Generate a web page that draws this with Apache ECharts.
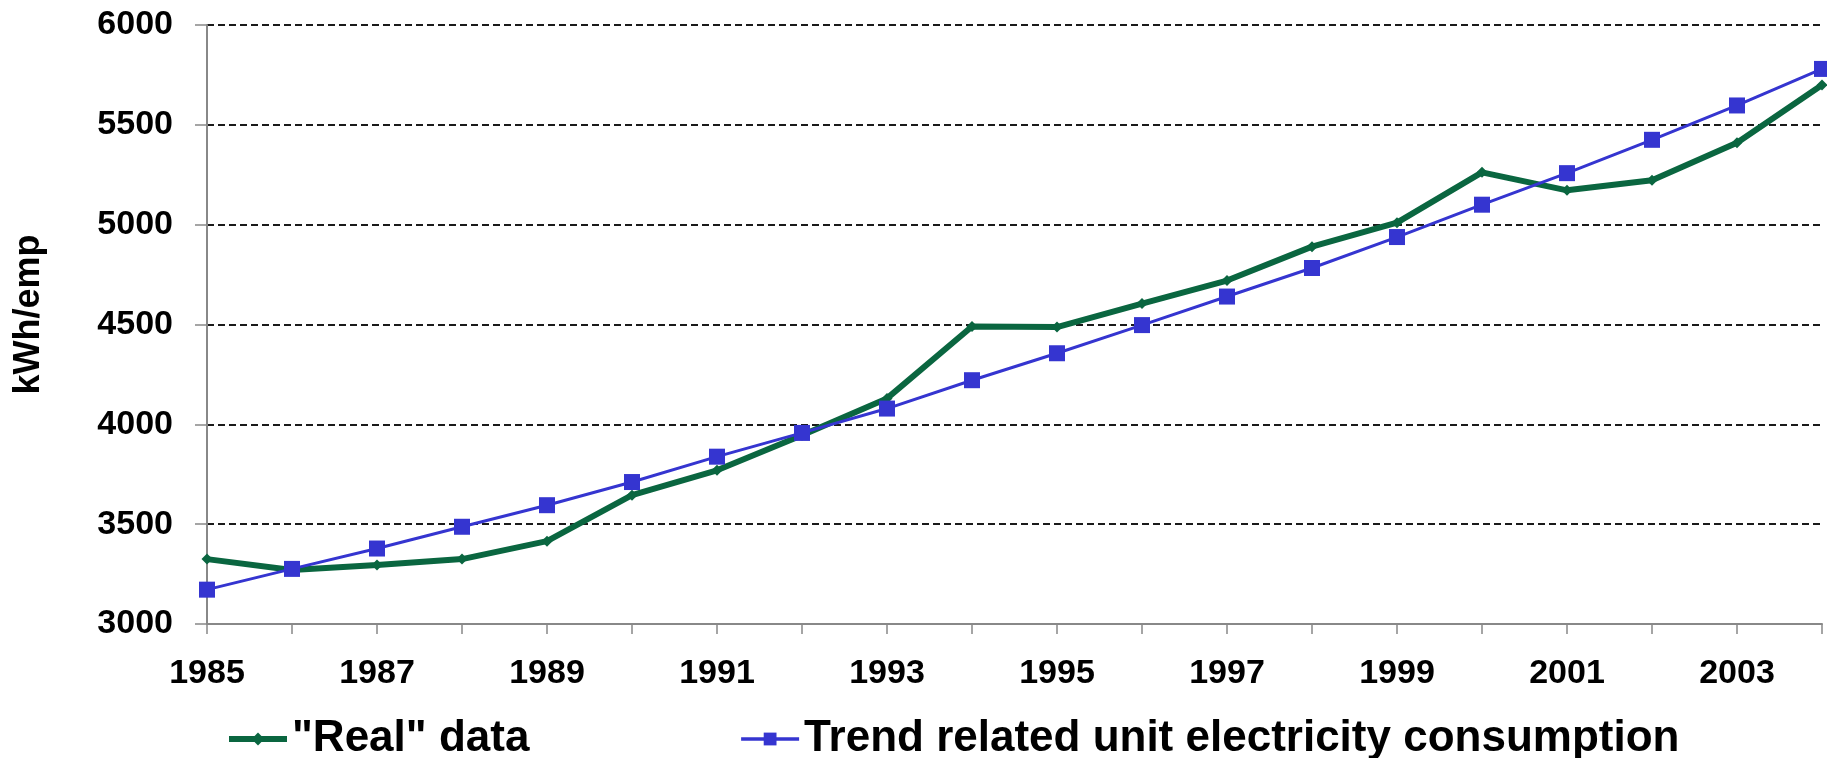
<!DOCTYPE html>
<html>
<head>
<meta charset="utf-8">
<script src="https://cdn.jsdelivr.net/npm/echarts@6/dist/echarts.min.js"></script>
<style>
html,body{margin:0;padding:0;background:#fff;}
#chart{width:1827px;height:758px;}
</style>
</head>
<body>
<div id="chart"></div>
<script>
var years = ['1985','1986','1987','1988','1989','1990','1991','1992','1993','1994','1995','1996','1997','1998','1999','2000','2001','2002','2003','2004'];
var realData = [3325, 3270, 3295, 3325, 3415, 3645, 3770, 3945, 4130, 4490, 4487, 4605, 4720, 4890, 5010, 5262, 5172, 5222, 5410, 5700];
var trendData = [3172, 3276, 3378, 3487, 3595, 3711, 3838, 3957, 4079, 4221, 4356, 4497, 4640, 4783, 4938, 5100, 5258, 5425, 5597, 5780];
var yTicks = {min: 3000, max: 6000, interval: 500};
var seriesNames = ['"Real" data', 'Trend related unit electricity consumption'];
var yName = 'kWh/emp';

var FONT = "'Liberation Sans', Arial, sans-serif";
var GREEN = '#0a6640';
var BLUE = '#3535d0';
var chart = echarts.init(document.getElementById('chart'));
chart.setOption({
  animation: false,
  backgroundColor: '#ffffff',
  grid: {left: 207, right: 5, top: 25, bottom: 134, containLabel: false},
  legend: {
    left: 221, top: 712,
    itemWidth: 58, itemHeight: 16, itemGap: 210,
    textStyle: {fontFamily: FONT, fontWeight: 'bold', fontSize: 44, color: '#000'},
    data: [
      {name: seriesNames[0], lineStyle: {width: 6, color: GREEN}},
      {name: seriesNames[1], lineStyle: {width: 3.5, color: BLUE}}
    ]
  },
  xAxis: {
    type: 'category',
    data: years,
    boundaryGap: false,
    axisLine: {lineStyle: {color: '#888', width: 2}},
    axisTick: {show: true, interval: 0, length: 10, lineStyle: {color: '#888', width: 1.5}},
    axisLabel: {interval: 1, margin: 33, fontFamily: FONT, fontWeight: 'bold', fontSize: 34, color: '#000'},
    splitLine: {show: false}
  },
  yAxis: {
    type: 'value',
    min: yTicks.min, max: yTicks.max, interval: yTicks.interval,
    name: yName,
    nameLocation: 'middle',
    nameGap: 160,
    nameRotate: 90,
    nameTextStyle: {fontFamily: FONT, fontWeight: 'bold', fontSize: 36, color: '#000', padding: [0, 0, 0, 20]},
    axisLine: {show: true, lineStyle: {color: '#888', width: 2}},
    axisTick: {show: true, length: 12, lineStyle: {color: '#888', width: 1.5}},
    axisLabel: {margin: 34, fontFamily: FONT, fontWeight: 'bold', fontSize: 34, color: '#000',
      formatter: function (v) { return String(v); }},
    splitLine: {show: true, lineStyle: {color: '#1a1a1a', width: 2.2, type: [7, 4]}}
  },
  series: [
    {
      name: seriesNames[0],
      type: 'line',
      data: realData,
      symbol: 'diamond',
      symbolSize: 11,
      lineStyle: {color: GREEN, width: 6},
      itemStyle: {color: GREEN},
      z: 2
    },
    {
      name: seriesNames[1],
      type: 'line',
      data: trendData,
      symbol: 'rect',
      symbolSize: 16,
      lineStyle: {color: BLUE, width: 3},
      itemStyle: {color: BLUE},
      z: 3
    }
  ]
});
</script>
</body>
</html>
